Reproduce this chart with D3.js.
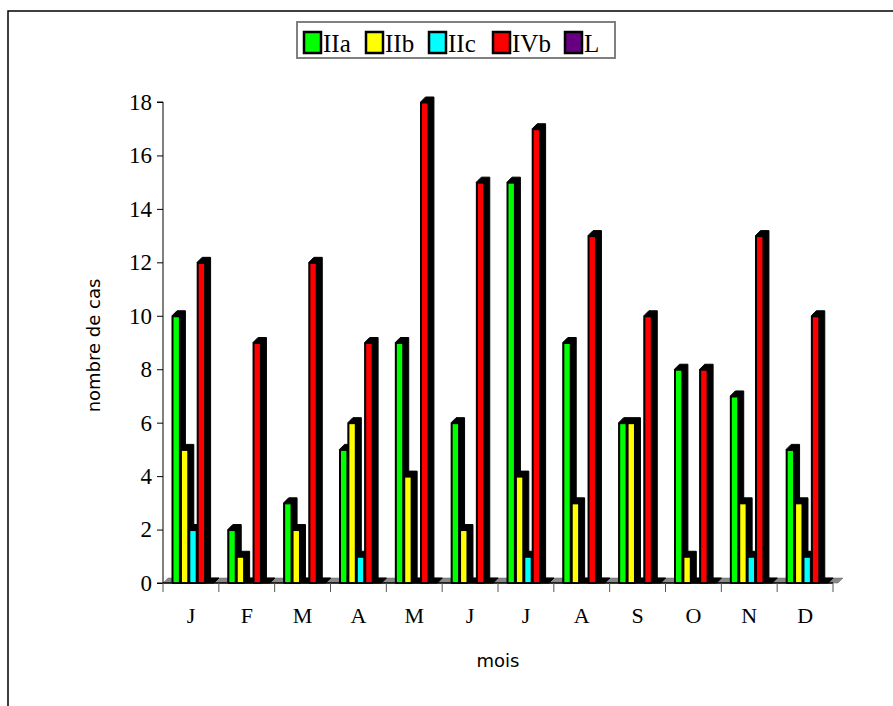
<!DOCTYPE html>
<html lang="fr">
  <head>
    <meta charset="UTF-8" />
    <title>nombre de cas par mois</title>
    <style>
      body { margin: 0; background: #fff; }
      .serif { font-family: "Liberation Serif", "Times New Roman", serif; }
      .sans { font-family: "DejaVu Sans", sans-serif; }
    </style>
  </head>
  <body>
    <script src="https://cdn.jsdelivr.net/npm/d3@7/dist/d3.min.js"></script>
    <script>

    // data
    var mois = ["J", "F", "M", "A", "M", "J", "J", "A", "S", "O", "N", "D"];
    var series = ["IIa", "IIb", "IIc", "IVb", "L"];
    var couleurs = ["#00ff00", "#ffff00", "#00ffff", "#ff0000", "#660080"];
    var IIa = [10, 2, 3, 5, 9, 6, 15, 9, 6, 8, 7, 5];
    var IIb = [5, 1, 2, 6, 4, 2, 4, 3, 6, 1, 3, 3];
    var IIc = [2, 0, 0, 1, 0, 0, 1, 0, 0, 0, 1, 1];
    var IVb = [12, 9, 12, 9, 18, 15, 17, 13, 10, 8, 13, 10];
    var L = [0, 0, 0, 0, 0, 0, 0, 0, 0, 0, 0, 0];
    var valeurs = [IIa, IIb, IIc, IVb, L];
    var yTicks = [0, 2, 4, 6, 8, 10, 12, 14, 16, 18];

    var w = 893, h = 706;
    var pLeft = 163, pRight = 833, pTop = 102, pBottom = 583;
    var depth = 5;

    var svg = d3.select("body").append("svg")
      .attr("width", w)
      .attr("height", h);

    // outer frame (only top + left visible)
    svg.append("path")
      .attr("d", "M8," + h + "V11H" + w)
      .attr("fill", "none")
      .attr("stroke", "#000")
      .attr("stroke-width", 1.5);

    // scales
    var xScale = d3.scaleBand()
      .domain(d3.range(mois.length))
      .range([pLeft, pRight])
      .padding(0);

    var yScale = d3.scaleLinear()
      .domain([0, 18])
      .range([pBottom, pTop]);

    var barW = 8.4;
    var barOff = 9;

    // floor of the 3d axis
    svg.append("path")
      .attr("d", "M" + pLeft + "," + pBottom + "L" + (pLeft + depth) + "," + (pBottom - depth) +
                 "H" + (pRight + depth + 5) + "L" + (pRight + 5) + "," + pBottom + "Z")
      .attr("fill", "#888")
      .attr("stroke", "#666")
      .attr("stroke-width", 0.5);

    // bars
    valeurs.forEach(function(vals, s) {
      var g = svg.append("g").attr("class", "serie-" + series[s]);
      vals.forEach(function(v, i) {
        var x = xScale(i) + barOff + s * barW;
        var y = yScale(v);
        // depth (top + side)
        g.append("path")
          .attr("d", "M" + x + "," + y + "L" + (x + depth) + "," + (y - depth) +
                     "H" + (x + barW + depth) + "V" + (pBottom - depth) +
                     "L" + (x + barW) + "," + pBottom + "H" + x + "Z")
          .attr("fill", "#000")
          .attr("stroke", "#000")
          .attr("stroke-width", 1);
        if (v > 0) {
          g.append("rect")
            .attr("x", x + 0.75)
            .attr("y", y + 0.75)
            .attr("width", barW - 1.5)
            .attr("height", pBottom - y - 0.75)
            .attr("fill", couleurs[s])
            .attr("stroke", "#000")
            .attr("stroke-width", 1.5);
        }
      });
    });

    // y axis
    var yAxis = d3.axisLeft(yScale)
      .tickValues(yTicks)
      .tickSize(6)
      .tickPadding(5)
      .tickFormat(d3.format("d"));
    var gy = svg.append("g")
      .attr("transform", "translate(" + pLeft + ",0)")
      .call(yAxis);
    gy.select(".domain").attr("d", "M-6," + pTop + "H0V" + pBottom + "H-6").attr("stroke", "#000");
    gy.selectAll("text")
      .attr("class", "serif")
      .style("font-size", "23px")
      .attr("fill", "#000");

    // x axis
    var xAxis = d3.axisBottom(xScale)
      .tickSize(0)
      .tickPadding(24)
      .tickFormat(function(i) { return mois[i]; });
    var gx = svg.append("g")
      .attr("transform", "translate(0," + pBottom + ")")
      .call(xAxis);
    gx.select(".domain").attr("d", "M" + pLeft + ",0H" + pRight).attr("stroke", "#000").attr("stroke-width", 1.5);
    gx.selectAll("text")
      .attr("class", "serif")
      .style("font-size", "22px")
      .attr("fill", "#000");

    // category separators below the axis
    svg.selectAll("line.sep")
      .data(d3.range(mois.length + 1))
      .enter().append("line")
      .attr("class", "sep")
      .attr("x1", function(i) { return pLeft + i * xScale.bandwidth(); })
      .attr("x2", function(i) { return pLeft + i * xScale.bandwidth(); })
      .attr("y1", pBottom)
      .attr("y2", pBottom + 9)
      .attr("stroke", "#555")
      .attr("stroke-width", 1);

    // axis titles
    svg.append("text")
      .attr("class", "sans")
      .attr("transform", "translate(100," + ((pTop + pBottom) / 2 + 3) + ") rotate(-90)")
      .attr("text-anchor", "middle")
      .style("font-size", "18px")
      .text("nombre de cas");

    svg.append("text")
      .attr("class", "sans")
      .attr("x", 498)
      .attr("y", 667)
      .attr("text-anchor", "middle")
      .style("font-size", "18px")
      .text("mois");

    // legend
    var leg = svg.append("g").attr("class", "legend");
    leg.append("rect")
      .attr("x", 297)
      .attr("y", 22)
      .attr("width", 318)
      .attr("height", 36)
      .attr("fill", "#fff")
      .attr("stroke", "#808080")
      .attr("stroke-width", 2);

    var legX = [304, 366, 429, 493, 565];
    series.forEach(function(s, i) {
      leg.append("rect")
        .attr("x", legX[i])
        .attr("y", 32)
        .attr("width", 17)
        .attr("height", 21)
        .attr("fill", couleurs[i])
        .attr("stroke", "#000")
        .attr("stroke-width", 2.5);
      leg.append("text")
        .attr("class", "serif")
        .attr("x", legX[i] + 19)
        .attr("y", 52)
        .style("font-size", "25px")
        .text(s);
    });

    </script>
  </body>
</html>
